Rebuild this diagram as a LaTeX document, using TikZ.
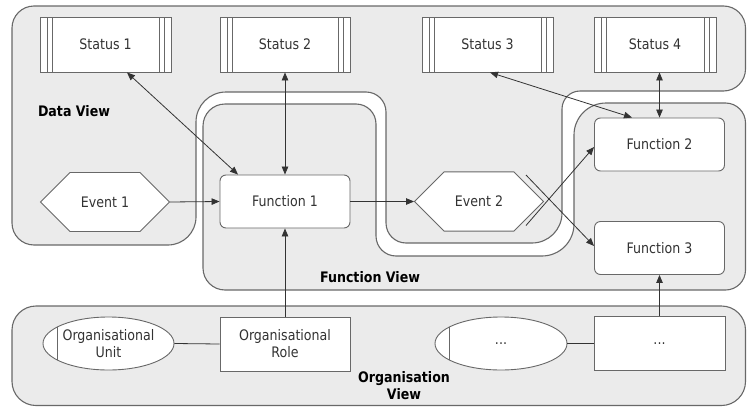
\documentclass[tikz,border=0pt]{standalone}
\usepackage{fontspec}
\setmainfont[FakeStretch=0.87]{DejaVu Sans}
\usetikzlibrary{arrows.meta,shapes.misc,shapes.geometric,calc}
\definecolor{regfill}{HTML}{EBEBEB}
\definecolor{edgegray}{HTML}{686868}
\begin{document}
\begin{tikzpicture}[x=1pt,y=-1pt,
  every node/.style={font=\fontsize{14.5pt}{17pt}\selectfont, text=black!80},
  region/.style={draw=edgegray, fill=regfill, line width=1.1pt},
  statusbox/.style={draw=edgegray, fill=white, line width=0.9pt, minimum height=55pt, inner sep=0pt,
    path picture={
      \draw[edgegray, line width=0.8pt]
        ([xshift=7pt]path picture bounding box.north west) -- ([xshift=7pt]path picture bounding box.south west)
        ([xshift=12pt]path picture bounding box.north west) -- ([xshift=12pt]path picture bounding box.south west)
        ([xshift=-7pt]path picture bounding box.north east) -- ([xshift=-7pt]path picture bounding box.south east)
        ([xshift=-12pt]path picture bounding box.north east) -- ([xshift=-12pt]path picture bounding box.south east);
    }},
  funcbox/.style={draw=edgegray, fill=white, rounded corners=6pt, line width=0.9pt,
    minimum width=130pt, minimum height=53pt, inner sep=0pt},
  eventbox/.style={chamfered rectangle, chamfered rectangle xsep=18pt, chamfered rectangle ysep=27pt,
    draw=edgegray, fill=white, line width=0.9pt, minimum width=129pt, minimum height=53pt, inner sep=0pt},
  orgunit/.style={ellipse, draw=edgegray, fill=white, line width=0.9pt, minimum width=131pt,
    minimum height=53pt, inner sep=0pt, align=center,
    path picture={
      \draw[edgegray, line width=0.9pt]
        ([xshift=14pt]path picture bounding box.north west) -- ([xshift=14pt]path picture bounding box.south west);
    }},
  orgrole/.style={draw=edgegray, fill=white, line width=0.9pt, minimum width=130pt,
    minimum height=54pt, inner sep=0pt, align=center},
  viewlabel/.style={font=\fontsize{14.5pt}{17pt}\selectfont\bfseries, text=black, align=center},
  conn/.style={draw=black!80, line width=0.8pt},
  onearrow/.style={-{Triangle[length=8pt,width=6.5pt]}},
  twoarrow/.style={{Triangle[length=8pt,width=6.5pt]}-{Triangle[length=8pt,width=6.5pt]}}
]
\useasboundingbox (0,0) rectangle (747,407);

% Data View region
\path[region, rounded corners=22pt] (100,6) -- (745.5,6) -- (745.5,91)
  [rounded corners=18pt] -- (562,91)
  [rounded corners=30pt] -- (562,243)
  [rounded corners=20pt] -- (386,243) -- (386,92)
  [rounded corners=30pt] -- (196,92)
  [rounded corners=28pt] -- (196,245)
  [rounded corners=22pt] -- (12,245) -- (12,6)
  [rounded corners=30pt] -- cycle;

% Function View region
\path[region, rounded corners=20pt] (300,104) -- (376,104)
  [rounded corners=20pt] -- (376,256)
  [rounded corners=32pt] -- (574,256) -- (574,103)
  [rounded corners=20pt] -- (745.5,103) -- (745.5,290)
  [rounded corners=22pt] -- (203,290) -- (203,104)
  [rounded corners=20pt] -- cycle;

% Organisation View region
\path[region, rounded corners=24pt] (12,306) rectangle (745.5,405.5);

% view labels
\node[viewlabel] (ldv) at (74,111) {Data View};
\node[viewlabel] (lfv) at (370,277) {Function View};
\node[viewlabel] (lov) at (404,386) {Organisation\\View};

% nodes
\node[statusbox, minimum width=131pt] (s1) at (105.5,44.5) {Status 1};
\node[statusbox, minimum width=130pt] (s2) at (285,44.5) {Status 2};
\node[statusbox, minimum width=131pt] (s3) at (487.5,44.5) {Status 3};
\node[statusbox, minimum width=122pt] (s4) at (655,44.5) {Status 4};
\node[eventbox] (e1) at (105,202) {Event 1};
\node[funcbox] (f1) at (285,201.5) {Function 1};
\node[eventbox] (e2) at (479,201.5) {Event 2};
\node[funcbox] (f2) at (659.5,144.5) {Function 2};
\node[funcbox] (f3) at (659.5,248) {Function 3};
\node[orgunit] (u1) at (108.5,343.5) {Organisational\\Unit};
\node[orgrole] (r1) at (285,344) {Organisational\\Role};
\node[orgunit, minimum width=132pt] (u2) at (501,343.5) {...};
\node[orgrole, minimum width=131pt] (r2) at (659.5,343.5) {...};

% connectors
\draw[conn, twoarrow] ([xshift=21.5pt]s1.south) -- ([xshift=-47pt]f1.north);
\draw[conn, twoarrow] (s2.south) -- (f1.north);
\draw[conn, onearrow] (e1.east) -- (f1.west);
\draw[conn, onearrow] (f1.east) -- (e2.west);
\draw[conn, twoarrow] ([xshift=2.5pt]s3.south) -- ([xshift=-27.5pt]f2.north);
\draw[conn, twoarrow] (f2.north |- s4.south) -- (f2.north);
\draw[conn, onearrow] ($(e2.center)+(47,24)$) -- ([yshift=-2.5pt]f2.west);
\draw[conn, onearrow] ($(e2.center)+(47,-26.5)$) -- ([yshift=2pt]f3.west);
\draw[conn, onearrow] (r1.north) -- (f1.south);
\draw[conn, onearrow] (r2.north) -- (f3.south);
\draw[conn] (u1.east) -- (r1.west);
\draw[conn] (u2.east) -- (r2.west);
\end{tikzpicture}
\end{document}
